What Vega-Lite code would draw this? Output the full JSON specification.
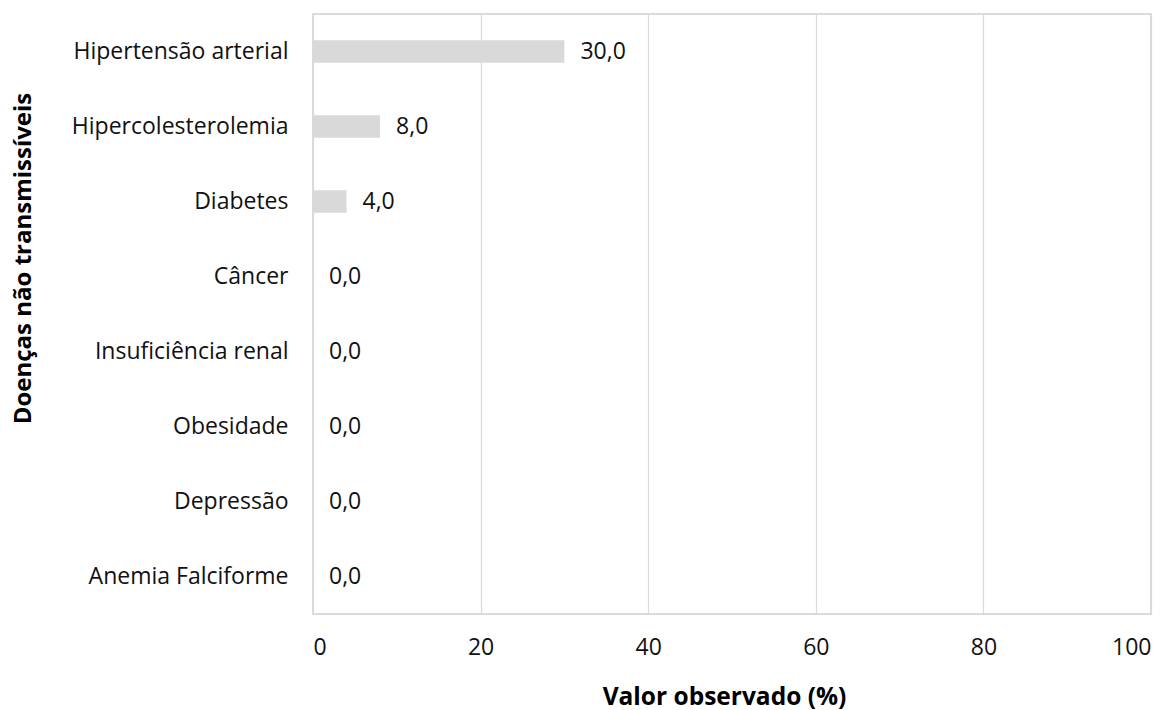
{
  "$schema": "https://vega.github.io/schema/vega-lite/v6.json",
  "width": 838,
  "height": 600,
  "autosize": {"type": "none"},
  "padding": {"left": 313, "top": 14, "right": 23, "bottom": 96},
  "config": {
    "locale": {"number": {"decimal": ",", "thousands": ".", "grouping": [3], "currency": ["", ""]}},
    "view": {"stroke": "#d0d0d0", "strokeWidth": 1.5},
    "font": "Open Sans"
  },
  "data": {
    "values": [
      {"doenca": "Hipertensão arterial", "valor": 30},
      {"doenca": "Hipercolesterolemia", "valor": 8},
      {"doenca": "Diabetes", "valor": 4},
      {"doenca": "Câncer", "valor": 0},
      {"doenca": "Insuficiência renal", "valor": 0},
      {"doenca": "Obesidade", "valor": 0},
      {"doenca": "Depressão", "valor": 0},
      {"doenca": "Anemia Falciforme", "valor": 0}
    ]
  },
  "encoding": {
    "y": {
      "field": "doenca", "type": "nominal", "sort": null,
      "scale": {"paddingInner": 0.7, "paddingOuter": 0.35},
      "axis": {
        "title": "Doenças não transmissíveis",
        "titleFont": "Open Sans", "titleFontWeight": "bold", "titleFontSize": 24, "titleColor": "#000",
        "titleX": -290, "titleY": 244, "titleAngle": -90, "titleBaseline": "middle", "titleAlign": "center",
        "labelFont": "Open Sans", "labelFontSize": 23, "labelColor": "#111", "labelLimit": 400,
        "labelPadding": 25, "ticks": false, "domain": false, "grid": false
      }
    },
    "x": {
      "field": "valor", "type": "quantitative",
      "scale": {"domain": [0, 100], "nice": false},
      "axis": {
        "title": "Valor observado (%)",
        "titleFont": "Open Sans", "titleFontWeight": "bold", "titleFontSize": 24.5, "titleColor": "#000",
        "titleX": 411, "titleY": 83, "titleAlign": "center", "titleBaseline": "middle",
        "values": [0, 20, 40, 60, 80, 100], "format": "d",
        "labelFont": "Open Sans", "labelFontSize": 23, "labelColor": "#111",
        "labelPadding": 22, "ticks": false, "domain": false,
        "grid": true, "gridColor": "#d9d9d9", "gridWidth": 1.2
      }
    }
  },
  "layer": [
    {"mark": {"type": "bar", "color": "#d9d9d9"}},
    {
      "mark": {"type": "text", "align": "left", "dx": 16, "font": "Open Sans", "fontSize": 23, "color": "#111", "baseline": "middle"},
      "encoding": {"text": {"field": "valor", "type": "quantitative", "format": ".1f"}}
    }
  ]
}
